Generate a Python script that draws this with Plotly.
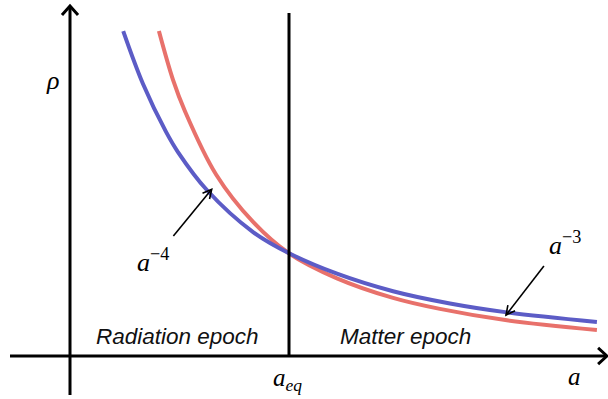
import math
import plotly.graph_objects as go

# ---- data (a in units of a_eq, rho in units of rho(a_eq)) ----
blue_a = [0.243, 0.333, 0.438, 0.493, 0.626, 0.836, 0.998, 1.219, 1.475, 1.735, 1.995, 2.406]
blue_rho = [3.176, 2.660, 2.190, 1.990, 1.615, 1.205, 1.000, 0.797, 0.625, 0.505, 0.418, 0.324]

red_a = [0.406, 0.470, 0.525, 0.667, 0.836, 0.998, 1.219, 1.475, 1.689, 1.995, 2.406]
red_rho = [3.176, 2.700, 2.390, 1.770, 1.305, 1.000, 0.752, 0.560, 0.452, 0.340, 0.245]

a_eq = 1.0

# label anchors (data coords)
lbl_m4 = (0.38, 0.93)        # a^-4 text
arrow_m4 = ((0.472, 1.167), (0.647, 1.625))   # tail, tip
lbl_m3 = (2.26, 1.09)
arrow_m3 = ((2.164, 0.873), (1.991, 0.392))

W, H = 608, 399
X0, X1 = -70 / 219, 538 / 219
Y0, Y1 = -44 / 102, 355 / 102


def to_px(a, r):
    return (a - X0) / (X1 - X0) * W, H - (r - Y0) / (Y1 - Y0) * H


def to_data(px, py):
    return X0 + px / W * (X1 - X0), Y0 + (H - py) / H * (Y1 - Y0)


def vhead(tip, tail, length=10, ang=27):
    tx, ty = to_px(*tip)
    sx, sy = to_px(*tail)
    th = math.atan2(sy - ty, sx - tx)
    pts = []
    for s in (-1, 1):
        t = th + s * math.radians(ang)
        pts.append(to_data(tx + length * math.cos(t), ty + length * math.sin(t)))
    return pts


fig = go.Figure()
fig.add_trace(go.Scatter(x=red_a, y=red_rho, mode="lines",
                         line=dict(color="#e8716b", width=4, shape="spline", smoothing=1.0),
                         hoverinfo="skip", showlegend=False))
fig.add_trace(go.Scatter(x=blue_a, y=blue_rho, mode="lines",
                         line=dict(color="#5c5cc6", width=4, shape="spline", smoothing=1.0),
                         hoverinfo="skip", showlegend=False))

shapes = []
# axes
xa_l, _ = to_data(10, 0)
xa_r, _ = to_data(607, 0)
_, ya_b = to_data(0, 395)
_, ya_t = to_data(0, 6)
_, yax = to_data(0, 356)
shapes.append(dict(type="line", x0=xa_l, x1=xa_r, y0=yax, y1=yax, line=dict(color="black", width=3)))
shapes.append(dict(type="line", x0=0, x1=0, y0=ya_b, y1=ya_t, line=dict(color="black", width=3)))
# axis arrowheads (open chevrons)
for tip, tail in [((xa_r, yax), (xa_l, yax)), ((0, ya_t), (0, ya_b))]:
    p1, p2 = vhead(tip, tail, length=12, ang=42)
    shapes.append(dict(type="path",
                       path=f"M{p1[0]},{p1[1]} L{tip[0]},{tip[1]} L{p2[0]},{p2[1]}",
                       line=dict(color="black", width=3)))
# a_eq vertical line
_, v_top = to_data(0, 13)
shapes.append(dict(type="line", x0=a_eq, x1=a_eq, y0=yax, y1=v_top, line=dict(color="black", width=3)))
# label arrows
for tail, tip in [arrow_m4, arrow_m3]:
    shapes.append(dict(type="line", x0=tail[0], y0=tail[1], x1=tip[0], y1=tip[1],
                       line=dict(color="black", width=1.6)))
    p1, p2 = vhead(tip, tail, length=10, ang=27)
    shapes.append(dict(type="path",
                       path=f"M{p1[0]},{p1[1]} L{tip[0]},{tip[1]} L{p2[0]},{p2[1]}",
                       line=dict(color="black", width=1.6)))

serif = "Liberation Serif"
sans = "Liberation Sans"
ann = []


def txt(x, y, text, size, family, color="black"):
    ann.append(dict(x=x, y=y, xref="x", yref="y", text=text, showarrow=False,
                    xanchor="center", yanchor="middle",
                    font=dict(family=family, size=size, color=color)))


txt(lbl_m4[0], lbl_m4[1], "<i>a</i><sup>−4</sup>", 26, serif)
txt(lbl_m3[0], lbl_m3[1], "<i>a</i><sup>−3</sup>", 26, serif)
rx, ry = to_data(52, 80)
txt(rx, ry, "<i>ρ</i>", 26, serif)
ex, ey = to_data(287, 379)
txt(ex, ey, "<i>a<sub>eq</sub></i>", 25, serif)
ax_, ay_ = to_data(574, 376)
txt(ax_, ay_, "<i>a</i>", 25, serif)
r1x, r1y = to_data(177.5, 336)
txt(r1x, r1y, "<i>Radiation epoch</i>", 22.5, sans, "#111111")
r2x, r2y = to_data(405, 336)
txt(r2x, r2y, "<i>Matter epoch</i>", 22.5, sans, "#111111")

fig.update_layout(
    width=W, height=H, margin=dict(l=0, r=0, t=0, b=0),
    paper_bgcolor="white", plot_bgcolor="white",
    xaxis=dict(range=[X0, X1], visible=False, fixedrange=True),
    yaxis=dict(range=[Y0, Y1], visible=False, fixedrange=True),
    shapes=shapes, annotations=ann, showlegend=False,
)
fig.write_html("out.html")
